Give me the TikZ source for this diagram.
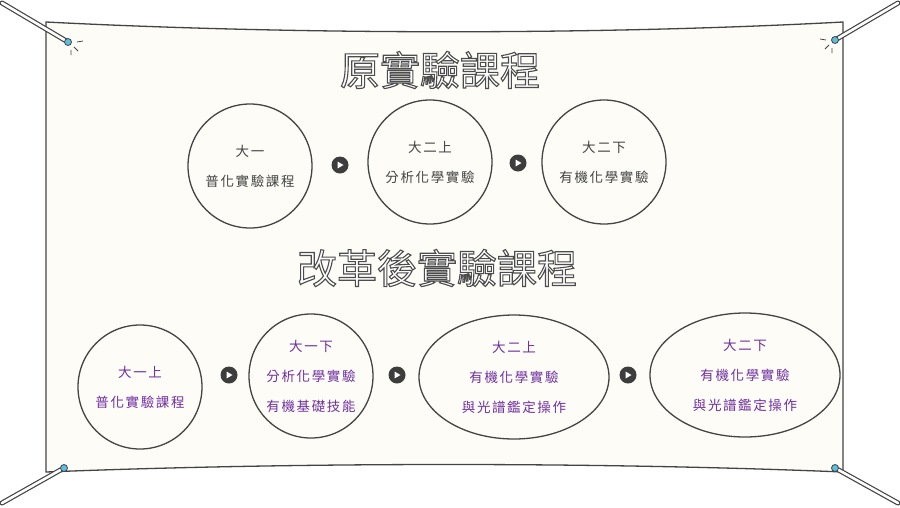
\documentclass[tikz,border=0pt]{standalone}
\usepackage{fontspec}
\setmainfont{Noto Sans CJK TC}[LetterSpace=12]
\newfontfamily\titlefont{Noto Sans CJK TC}
\definecolor{paper}{HTML}{FDFCF7}
\definecolor{ink}{HTML}{444444}
\definecolor{purp}{HTML}{7030A0}
\definecolor{pin}{HTML}{5BC0DE}
\newcommand{\outlined}[1]{\special{pdf:literal direct q 2 Tr 1.1 w 0.3 0.3 0.3 RG 1 1 1 rg}#1\special{pdf:literal direct Q}}
\tikzset{
 stage/.style={circle,draw=ink,line width=1.3pt,fill=paper,minimum size=124pt,align=center,font=\fontsize{13.5}{30}\selectfont,text=ink},
 oval/.style={ellipse,draw=ink,line width=1.3pt,fill=paper,minimum width=190pt,minimum height=124pt,align=center,font=\fontsize{13.5}{30}\selectfont,text=purp},
 playbtn/.style={circle,fill=ink!90!black,minimum size=17pt,inner sep=0pt},
 title/.style={font=\titlefont\fontsize{40}{44}\selectfont},
 rope/.style={draw=ink,line width=5pt,line cap=round},
 ropein/.style={draw=white,line width=2.6pt,line cap=round},
 pinmark/.style={circle,draw=ink,fill=pin,line width=0.8pt,minimum size=7pt,inner sep=0pt}
}
\usetikzlibrary{shapes.geometric}
\begin{document}
\begin{tikzpicture}[x=1pt,y=-1pt]
\useasboundingbox (0,0) rectangle (900,507);
\fill[white] (0,0) rectangle (900,507);
% banner
\filldraw[fill=paper,draw=ink,line width=1.3pt] (46,22) .. controls (300,35) and (600,35) .. (843,22) -- (843,472) .. controls (600,462) and (300,462) .. (46,472) -- cycle;
% ropes and pins
\coordinate (p1) at (68,42); \coordinate (p2) at (835,40); \coordinate (p3) at (64,468); \coordinate (p4) at (835,468);
\coordinate (e1) at (2,3); \coordinate (e2) at (898,3); \coordinate (e3) at (2,503); \coordinate (e4) at (898,503);
\foreach \a/\b in {p1/e1,p2/e2,p3/e3,p4/e4}{\draw[rope] (\a)--(\b); \draw[ropein] (\a)--(\b);}
\foreach \a in {p1,p2,p3,p4}{\node[pinmark] at (\a) {};}
\draw[ink,line width=0.8pt] (77,42)--(83,41) (74,47)--(78,51) (71,50)--(71,55);
\draw[ink,line width=0.8pt] (826,40)--(820,39) (829,45)--(825,49) (832,48)--(832,53);
% titles
\node[title] (t1) at (440,70) {\outlined{原實驗課程}};
\node[title] (t2) at (437,268) {\outlined{改革後實驗課程}};
% row 1
\node[stage] (a1) at (250,166) {大一\\普化實驗課程};
\node[stage] (a2) at (430,162) {大二上\\分析化學實驗};
\node[stage] (a3) at (604,162) {大二下\\有機化學實驗};
\node[playbtn] (b1) at (340,165) {}; \node[playbtn] (b2) at (518,163) {};
% row 2
\node[stage,text=purp] (c1) at (140,387) {大一上\\普化實驗課程};
\node[stage,text=purp] (c2) at (311,376) {大一下\\分析化學實驗\\有機基礎技能};
\node[oval] (c3) at (514,377) {大二上\\有機化學實驗\\與光譜鑑定操作};
\node[oval] (c4) at (745,375) {大二下\\有機化學實驗\\與光譜鑑定操作};
\node[playbtn] (d1) at (229,375) {}; \node[playbtn] (d2) at (397,375) {}; \node[playbtn] (d3) at (628,375) {};
\foreach \n in {b1,b2,d1,d2,d3}{\fill[white] ([xshift=-2.5pt,yshift=-3.5pt]\n.center) -- ([xshift=-2.5pt,yshift=3.5pt]\n.center) -- ([xshift=3.5pt]\n.center) -- cycle;}
\end{tikzpicture}
\end{document}
